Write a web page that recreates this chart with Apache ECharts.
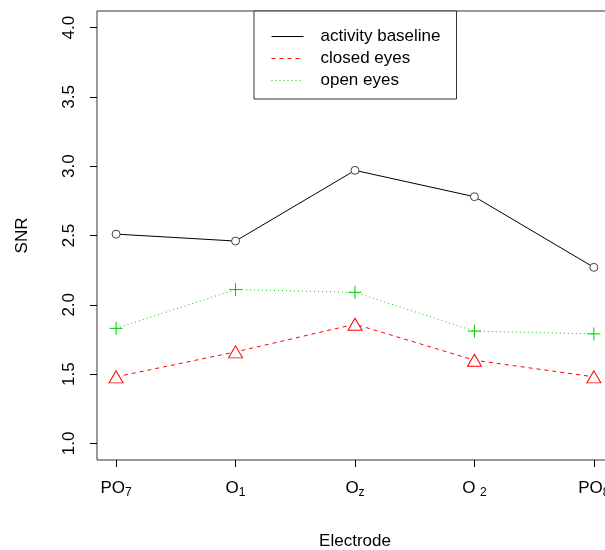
<!DOCTYPE html>
<html>
<head>
<meta charset="utf-8">
<script src="https://cdn.jsdelivr.net/npm/echarts@6/dist/echarts.min.js"></script>
<style>
html,body{margin:0;padding:0;background:#fff;}
#chart{width:605px;height:550px;}
</style>
</head>
<body>
<div id="chart"></div>
<script>
// Data
const categories = ['PO7', 'O1', 'Oz', 'O2', 'PO8'];
const catBase = ['PO', 'O', 'O', 'O ', 'PO'];
const catSub = ['7', '1', 'z', '2', '8'];
const activityBaseline = [2.51, 2.46, 2.97, 2.78, 2.27];
const closedEyes = [1.48, 1.66, 1.86, 1.60, 1.48];
const openEyes = [1.83, 2.11, 2.09, 1.81, 1.79];
const yTicks = [1.0, 1.5, 2.0, 2.5, 3.0, 3.5, 4.0];
const xTicks = categories.map((c, i) => i + 1);

const toPts = arr => arr.map((v, i) => [i + 1, v]);
const FONT = 'Liberation Sans, Arial, sans-serif';
const FS = 17;

const chart = echarts.init(document.getElementById('chart'), null, {renderer: 'canvas'});
chart.setOption({
  backgroundColor: '#fff',
  animation: false,
  grid: {
    left: 97, top: 11, right: -8, bottom: 90,
    outerBoundsMode: 'none', containLabel: false,
    show: true, borderColor: '#333', borderWidth: 1, backgroundColor: 'transparent'
  },
  legend: {
    orient: 'vertical',
    left: 254, top: 11,
    padding: [17, 16, 10, 17],
    itemWidth: 32, itemHeight: 14,
    itemGap: 5,
    borderColor: '#333', borderWidth: 1, borderRadius: 0,
    backgroundColor: '#fff',
    itemStyle: {opacity: 0},
    lineStyle: {width: 1},
    textStyle: {fontFamily: FONT, fontSize: FS, color: '#000', padding: [0, 0, 0, 12]},
    data: ['activity baseline', 'closed eyes', 'open eyes']
  },
  xAxis: {
    type: 'value', min: 0.84, max: 5.16,
    name: 'Electrode', nameLocation: 'middle', nameGap: 73,
    nameTextStyle: {fontFamily: FONT, fontSize: FS, color: '#000'},
    axisLine: {show: false},
    splitLine: {show: false},
    axisTick: {show: true, customValues: xTicks, length: 7, inside: false, lineStyle: {color: '#000'}},
    axisLabel: {
      customValues: xTicks, margin: 17,
      formatter: v => {
        const i = Math.round(v) - 1;
        return '{b|' + catBase[i] + '}{s|' + catSub[i] + '}';
      },
      rich: {
        b: {fontFamily: FONT, fontSize: FS, color: '#000'},
        s: {fontFamily: FONT, fontSize: 12, color: '#000', padding: [10, 0, 0, 0]}
      }
    }
  },
  yAxis: {
    type: 'value', min: 0.88, max: 4.12,
    name: 'SNR', nameLocation: 'middle', nameGap: 66, nameRotate: 90,
    nameTextStyle: {fontFamily: FONT, fontSize: FS, color: '#000'},
    axisLine: {show: false},
    splitLine: {show: false},
    axisTick: {show: true, customValues: yTicks, length: 7, lineStyle: {color: '#000'}},
    axisLabel: {
      customValues: yTicks, rotate: 90, margin: 19,
      fontFamily: FONT, fontSize: FS, color: '#000',
      formatter: v => v.toFixed(1)
    }
  },
  series: [
    {
      name: 'activity baseline', type: 'line', data: toPts(activityBaseline),
      symbol: 'circle', symbolSize: 8,
      lineStyle: {color: '#000', width: 1, type: 'solid'},
      itemStyle: {color: '#fff', borderColor: '#444', borderWidth: 1}
    },
    {
      name: 'closed eyes', type: 'line', data: toPts(closedEyes),
      symbol: 'triangle', symbolSize: [14, 12],
      lineStyle: {color: '#ff0000', width: 1, type: [4, 4]},
      itemStyle: {color: '#fff', borderColor: '#ff0000', borderWidth: 1}
    },
    {
      name: 'open eyes', type: 'line', data: toPts(openEyes),
      symbol: 'path://M0,5L10,5M5,0L5,10', symbolSize: 13,
      lineStyle: {color: '#00cc00', width: 1, type: [1, 3]},
      itemStyle: {color: 'transparent', borderColor: '#00cc00', borderWidth: 1}
    }
  ]
});
</script>
</body>
</html>
